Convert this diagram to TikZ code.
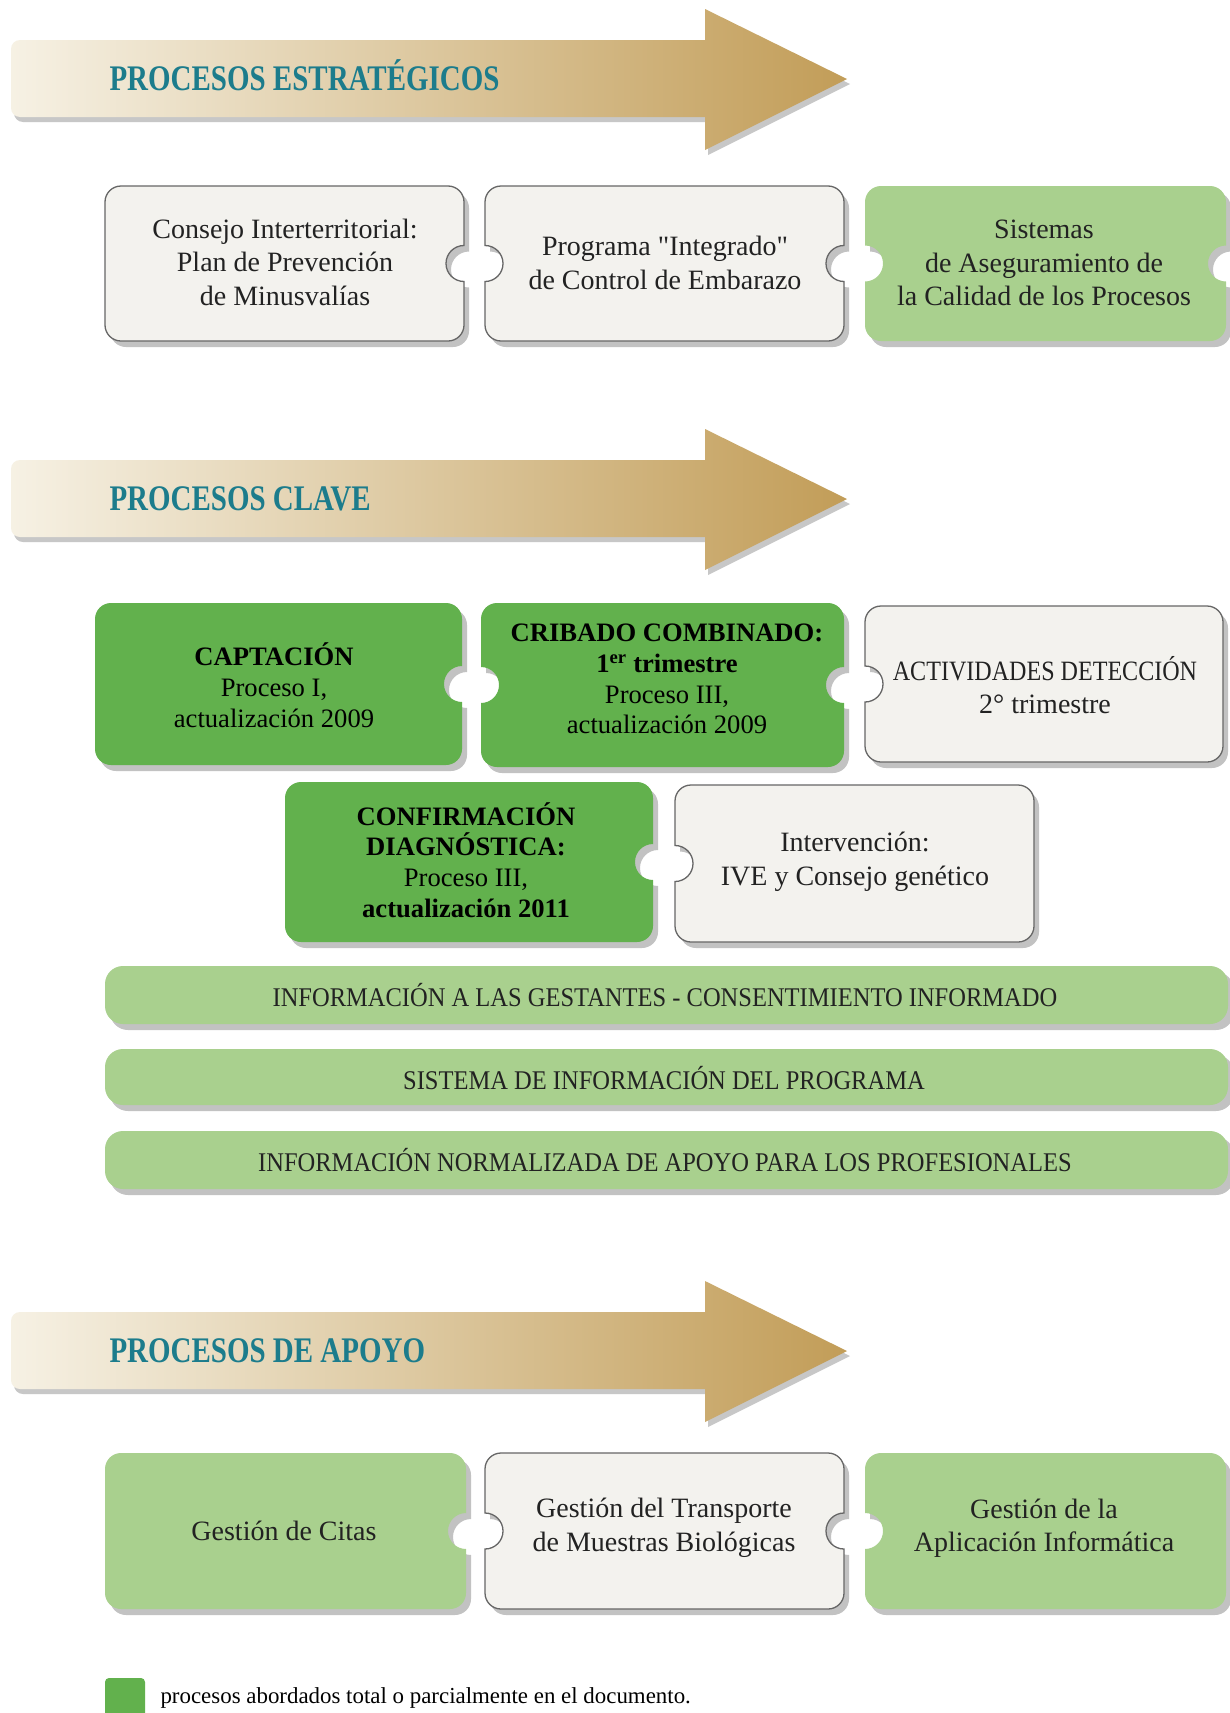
\documentclass[tikz,border=0pt]{standalone}
\usepackage{fontspec}
\setmainfont{Liberation Serif}[Ligatures=TeXOff]
\newfontfamily\bannerfont[FakeStretch=0.805]{Liberation Serif}
\newfontfamily\condfont[FakeStretch=0.908]{Liberation Serif}
\definecolor{lgreen}{HTML}{A9D08E}
\definecolor{dgreen}{HTML}{62B14D}
\definecolor{boxgray}{HTML}{F3F2EE}
\definecolor{boxline}{HTML}{666666}
\definecolor{shadowc}{HTML}{C2C2C2}
\definecolor{banL}{HTML}{F6F1E4}
\definecolor{banR}{HTML}{C29D58}
\definecolor{tealtxt}{HTML}{1C7C8C}
\definecolor{txtdark}{HTML}{222222}
\def\crad{16}
\def\nrad{18}
\newcommand\pzpath[6]{({#1+\crad},#2) -- ({#3-\crad},#2) arc[start angle=270,end angle=360,radius=\crad] -- (#3,{(#2+#4)/2-\nrad}) #6 -- (#3,{#4-\crad}) arc[start angle=0,end angle=90,radius=\crad] -- ({#1+\crad},#4) arc[start angle=90,end angle=180,radius=\crad] -- (#1,{(#2+#4)/2+\nrad}) #5 -- (#1,{#2+\crad}) arc[start angle=180,end angle=270,radius=\crad] -- cycle}
\newcommand\puzzle[7]{%
  \ifnum#6=1\def\pzL{arc[start angle=90,end angle=-90,radius=\nrad]}\else\def\pzL{}\fi
  \ifnum#7=1\def\pzR{arc[start angle=270,end angle=90,radius=\nrad]}\else\def\pzR{}\fi
  \path[shadowfill,shift={(5,6)}] \pzpath{#2}{#3}{#4}{#5}{\pzL}{\pzR};
  \path[#1] \pzpath{#2}{#3}{#4}{#5}{\pzL}{\pzR};
}
\newcommand\bannerpath[1]{(705,{40+#1}) [rounded corners=9] -- (11,{40+#1}) -- (11,{117+#1}) [sharp corners] -- (705,{117+#1}) -- (705,{150+#1}) -- (847,{79+#1}) -- (705,{9+#1}) -- cycle}
\tikzset{
  grayfill/.style={fill=boxgray, draw=boxline, line width=1.3pt},
  lgfill/.style={fill=lgreen},
  dgfill/.style={fill=dgreen},
  shadowfill/.style={fill=shadowc},
  boxtext/.style={align=center, text=txtdark, font=\fontsize{28}{33.5}\selectfont},
  keytext/.style={align=center, text=black, font=\fontsize{26.6}{30.8}\selectfont},
  bartext/.style={text=txtdark, font=\condfont\fontsize{27}{30}\selectfont},
  bannertext/.style={anchor=base west, text=tealtxt, font=\bannerfont\bfseries\fontsize{36}{40}\selectfont},
  legendtext/.style={anchor=west, text=black, font=\fontsize{22.9}{26}\selectfont}
}
\begin{document}
\begin{tikzpicture}[x=1pt,y=-1pt]
\useasboundingbox (0,0) rectangle (1229,1713);
\fill[white] (0,0) rectangle (1229,1713);

% banners
\path[fill=black!22, shift={(3,5)}] \bannerpath{0};
\path[left color=banL, right color=banR] \bannerpath{0};
\node[bannertext] (b1) at (106,90) {PROCESOS ESTRATÉGICOS};

\path[fill=black!22, shift={(3,5)}] \bannerpath{420};
\path[left color=banL, right color=banR] \bannerpath{420};
\node[bannertext] (b2) at (106,510) {PROCESOS CLAVE};

\path[fill=black!22, shift={(3,5)}] \bannerpath{1272};
\path[left color=banL, right color=banR] \bannerpath{1272};
\node[bannertext] (b3) at (106,1362) {PROCESOS DE APOYO};

% strategic row
\puzzle{grayfill}{105}{186}{464}{341}{0}{1}
\puzzle{grayfill}{485}{186}{844}{341}{1}{1}
\puzzle{lgfill}{865}{186}{1226}{341}{1}{1}
\node[boxtext] (t1) at (285,262) {Consejo Interterritorial:\\Plan de Prevención\\de Minusvalías};
\node[boxtext] (t2) at (665,263) {Programa "Integrado"\\de Control de Embarazo};
\node[boxtext] (t3) at (1044,263) {Sistemas\\de Aseguramiento de\\la Calidad de los Procesos};

% key rows
\puzzle{dgfill}{95}{603}{462}{765}{0}{1}
\puzzle{dgfill}{481}{603}{844}{767}{1}{1}
\puzzle{grayfill}{865}{606}{1223}{762}{1}{0}
\node[keytext] (k1) at (274,685) {\textbf{CAPTACIÓN}\\Proceso I,\\actualización 2009};
\node[keytext] (k2) at (667,679) {\textbf{CRIBADO COMBINADO:}\\\textbf{1\textsuperscript{er} trimestre}\\Proceso III,\\actualización 2009};
\node[boxtext] (k3) at (1045,685) {{\condfont\addfontfeatures{FakeStretch=0.86} ACTIVIDADES DETECCIÓN}\\2° trimestre};

\puzzle{dgfill}{285}{782}{653}{942}{0}{1}
\puzzle{grayfill}{675}{785}{1034}{942}{1}{0}
\node[keytext] (k4) at (466,860) {\textbf{CONFIRMACIÓN}\\\textbf{DIAGNÓSTICA:}\\Proceso III,\\\textbf{actualización 2011}};
\node[boxtext] (k5) at (855,862) {Intervención:\\IVE y Consejo genético};

% bars
\path[shadowfill, rounded corners=18] (110,972) rectangle (1234,1030);
\path[lgfill, rounded corners=18] (105,966) rectangle (1228,1024);
\node[bartext] (bar1) at (665,995) {INFORMACIÓN A LAS GESTANTES - CONSENTIMIENTO INFORMADO};
\path[shadowfill, rounded corners=18] (110,1055) rectangle (1234,1111);
\path[lgfill, rounded corners=18] (105,1049) rectangle (1228,1105);
\node[bartext] (bar2) at (664,1078) {SISTEMA DE INFORMACIÓN DEL PROGRAMA};
\path[shadowfill, rounded corners=18] (110,1137) rectangle (1234,1195);
\path[lgfill, rounded corners=18] (105,1131) rectangle (1228,1189);
\node[bartext] (bar3) at (665,1160) {INFORMACIÓN NORMALIZADA DE APOYO PARA LOS PROFESIONALES};

% support row
\puzzle{lgfill}{105}{1453}{466}{1609}{0}{1}
\puzzle{grayfill}{485}{1453}{844}{1609}{1}{1}
\puzzle{lgfill}{865}{1453}{1226}{1609}{1}{0}
\node[boxtext] (a1) at (284,1531) {Gestión de Citas};
\node[boxtext] (a2) at (664,1528) {Gestión del Transporte\\de Muestras Biológicas};
\node[boxtext] (a3) at (1044,1528) {Gestión de la\\Aplicación Informática};

% legend
\path[fill=dgreen, rounded corners=4] (105,1678) rectangle (145,1728);
\node[legendtext] (leg) at (157,1698) {procesos abordados total o parcialmente en el documento.};
\end{tikzpicture}
\end{document}
